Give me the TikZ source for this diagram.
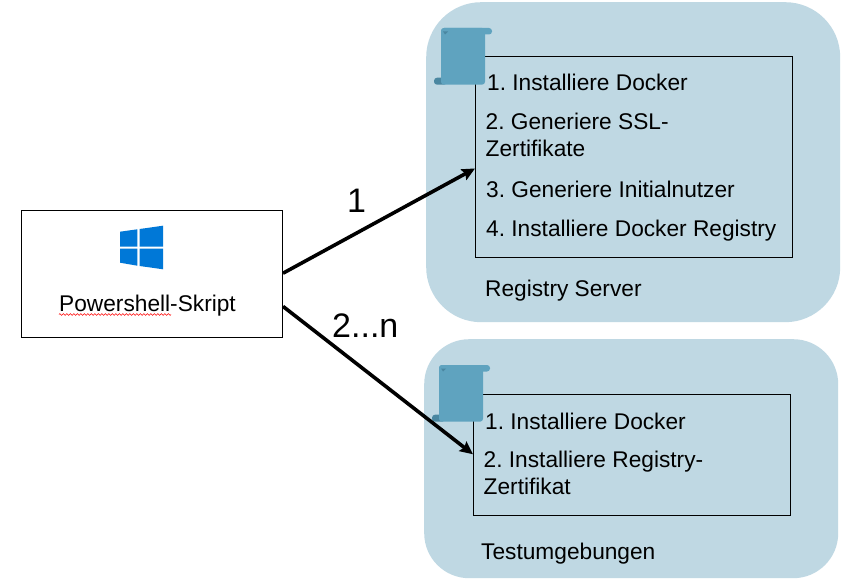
\documentclass[tikz,border=0pt]{standalone}
\usepackage{fontspec}
\setmainfont{Liberation Sans}
\frenchspacing
\usetikzlibrary{calc,arrows.meta,decorations.pathmorphing}
\definecolor{panelblue}{HTML}{BFD8E3}
\definecolor{scrollblue}{HTML}{5FA3BF}
\definecolor{scrolldark}{HTML}{4A87A1}
\definecolor{winblue}{HTML}{0078D7}
\tikzset{
  x=1pt,y=-1pt,
  panel/.style={fill=panelblue,draw=none,rounded corners=#1},
  listbox/.style={draw=black,line width=1pt,fill=none},
  txt/.style={anchor=base west,inner sep=0pt,font=\fontsize{22.7}{27}\selectfont,text=black},
  biglabel/.style={anchor=base west,inner sep=0pt,font=\fontsize{34}{40}\selectfont,text=black},
  link/.style={draw=black,line width=3.6pt,-{Stealth[length=13pt,width=12pt,inset=2pt]},shorten >=0pt},
}
\newcommand{\scrollshape}[2]{%
  \begin{scope}[shift={(#1,#2)}]
    \fill[scrollblue,rounded corners=3pt] (0,0) rectangle (51,6.5);
    \fill[scrolldark,rounded corners=3pt] (-7,49.7) rectangle (6,56.7);
    \fill[scrollblue,rounded corners=3pt] (0,0) rectangle (44,56.7);
    \fill[scrolldark] (2,3.5) -- (7,3.5) -- (4,6.5) -- cycle;
  \end{scope}%
}
\begin{document}
\begin{tikzpicture}
\useasboundingbox (0,0) rectangle (861,580);
\fill[white] (0,0) rectangle (861,580);
% panels
\node[panel=55pt,minimum width=414pt,minimum height=320pt,anchor=north west,inner sep=0pt] (regpanel) at (426,2) {};
\node[panel=45pt,minimum width=414pt,minimum height=239pt,anchor=north west,inner sep=0pt] (testpanel) at (424,339) {};
% list boxes
\node[listbox,minimum width=317pt,minimum height=200pt,anchor=north west,inner sep=0pt] (reglist) at (475,56.5) {};
\node[listbox,minimum width=317pt,minimum height=120.5pt,anchor=north west,inner sep=0pt] (testlist) at (473,394) {};
% scrolls
\scrollshape{441}{28}
\scrollshape{439}{365}
% script box
\node[draw=black,line width=1pt,fill=white,minimum width=261pt,minimum height=126.5pt,anchor=north west,inner sep=0pt] (ps) at (21,210) {};
% windows logo
\fill[winblue] (120,231.7) -- (137.3,229.3) -- (137.3,246.7) -- (120,246.7) -- cycle;
\fill[winblue] (139.7,229) -- (163,225.7) -- (163,246.7) -- (139.7,246.7) -- cycle;
\fill[winblue] (120,248.7) -- (137.3,248.7) -- (137.3,265.7) -- (120,262.7) -- cycle;
\fill[winblue] (139.7,248.7) -- (163,248.7) -- (163,269.3) -- (139.7,266) -- cycle;
% script label
\node[txt] (pstext) at (59,311.5) {Powershell-Skript};
\coordinate (sqa) at (59,314.5);
\coordinate (sqb) at (171,314.5);
\draw[red,line width=.6pt,decorate,decoration={zigzag,segment length=3.5pt,amplitude=.9pt}] (sqa) -- (sqb);
% registry text
\node[txt] (r1) at (487,90.7) {1. Installiere Docker};
\node[txt] (r2) at (485.5,130) {2. Generiere SSL-};
\node[txt] (r2b) at (485.5,156.7) {Zertifikate};
\node[txt] (r3) at (486,197) {3. Generiere Initialnutzer};
\node[txt] (r4) at (486,236) {4. Installiere Docker Registry};
\node[txt] (rs) at (485,296.5) {Registry Server};
% test text
\node[txt] (t1) at (485,429) {1. Installiere Docker};
\node[txt] (t2) at (483.5,467) {2. Installiere Registry-};
\node[txt] (t2b) at (483.5,494) {Zertifikat};
\node[txt] (ts) at (481,559) {Testumgebungen};
% connectors
\draw[link] ($(ps.north east)!0.496!(ps.south east)$) -- ($(reglist.north west)!0.557!(reglist.south west)$);
\draw[link] ($(ps.north east)!0.756!(ps.south east)$) -- ($(testlist.north west)!0.496!(testlist.south west)$);
% labels
\node[biglabel] (one) at (347,212) {1};
\node[biglabel] (two) at (332,337) {2...n};
\end{tikzpicture}
\end{document}
